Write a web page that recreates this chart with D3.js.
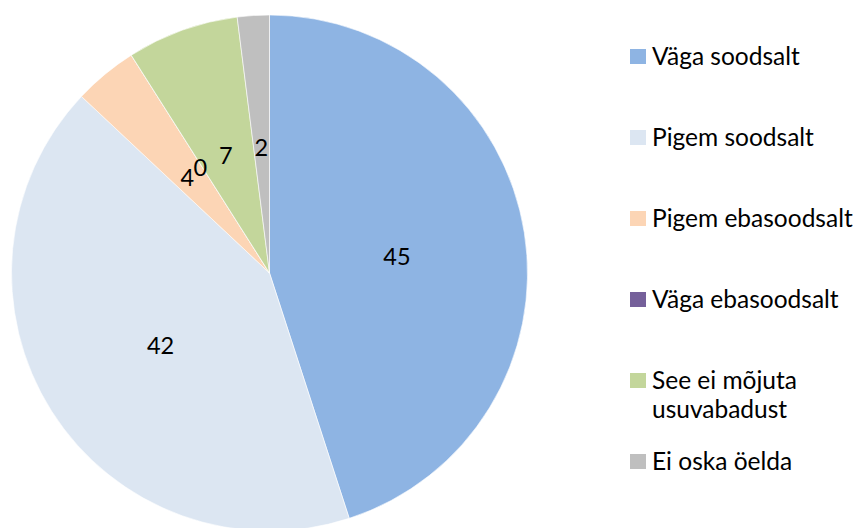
<html>
<head>
	<meta charset="utf-8">
	<style>
		body { margin: 0; background: #fff; }
		svg { position: absolute; top: 0px; left: 0px; }
		text { font-family: Lato, "Open Sans", sans-serif; fill: #000; }
	</style>
	<script src="https://cdnjs.cloudflare.com/ajax/libs/d3/7.8.5/d3.min.js"></script>
</head>
<body>
	<svg width="862" height="528"></svg>
</body>
<script>
var categories = ["Väga soodsalt", "Pigem soodsalt", "Pigem ebasoodsalt", "Väga ebasoodsalt", "See ei mõjuta usuvabadust", "Ei oska öelda"];
var values = [45, 42, 4, 0, 7, 2];
var colors = ["#8EB4E3", "#DCE6F2", "#FCD5B5", "#75609A", "#C3D69B", "#BFBFBF"];
// legend lines (wrapped like the original)
var legendLines = [["Väga soodsalt"], ["Pigem soodsalt"], ["Pigem ebasoodsalt"], ["Väga ebasoodsalt"], ["See ei mõjuta", "usuvabadust"], ["Ei oska öelda"]];
var legendY = [57, 138, 219, 300, 381, 462];

var svg = d3.select("svg"),
	cx = 269.5, cy = 273, r = 258;

var data = categories.map(function(c, i) { return {name: c, value: values[i], color: colors[i]}; });

var pie = d3.pie().sort(null).value(function(d) { return d.value; });
var arc = d3.arc().innerRadius(0).outerRadius(r);
var labelArc = d3.arc().innerRadius(r * 0.5).outerRadius(r * 0.5);

var g = svg.append("g").attr("transform", "translate(" + cx + "," + cy + ")");
var arcs = pie(data);

g.selectAll(".slice").data(arcs).enter()
	.append("path").attr("class", "slice")
	.attr("d", arc)
	.attr("fill", function(d) { return d.data.color; })
	.attr("stroke", "#fff")
	.attr("stroke-width", 0.6);

g.selectAll(".lbl").data(arcs).enter()
	.append("text").attr("class", "lbl")
	.attr("transform", function(d) { var p = labelArc.centroid(d); return "translate(" + p[0] + "," + (p[1] + 3) + ")"; })
	.attr("text-anchor", "middle")
	.attr("dominant-baseline", "central")
	.style("font-size", "23.5px")
	.text(function(d) { return d.data.value; });

var legend = svg.append("g").attr("transform", "translate(630,0)");
var item = legend.selectAll(".item").data(data).enter()
	.append("g").attr("class", "item")
	.attr("transform", function(d, i) { return "translate(0," + legendY[i] + ")"; });

item.append("rect").attr("x", 0).attr("y", -8).attr("width", 16).attr("height", 15)
	.attr("fill", function(d) { return d.color; });

item.append("text")
	.attr("x", 22)
	.style("font-size", "24.5px")
	.selectAll("tspan").data(function(d, i) { return legendLines[i]; }).enter()
	.append("tspan")
	.attr("x", 22)
	.attr("y", function(d, j) { return 8 + j * 29; })
	.text(function(d) { return d; });
</script>
</html>
